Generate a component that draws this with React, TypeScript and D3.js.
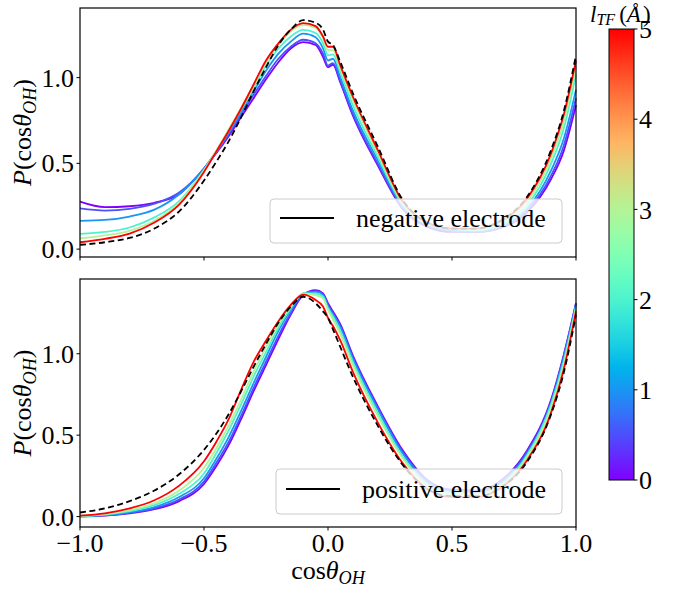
import React from "react";
import * as d3 from "d3";

// ---- data ----
const xs = [-1, -0.9, -0.8, -0.7, -0.6, -0.5, -0.45, -0.4, -0.35, -0.3, -0.25, -0.2, -0.15, -0.1, -0.05, -0.02, 0, 0.02, 0.05, 0.1, 0.2, 0.3, 0.4, 0.5, 0.6, 0.7, 0.8, 0.9, 0.95, 1.0];
const lTF = [0, 0.5, 1, 2, 3, 5];

const neg0 = [0.277, 0.245, 0.25, 0.27, 0.32, 0.47, 0.56, 0.66, 0.77, 0.88, 0.99, 1.09, 1.17, 1.207, 1.19, 1.12, 1.06, 1.075, 0.97, 0.78, 0.49, 0.235, 0.13, 0.10, 0.10, 0.125, 0.21, 0.41, 0.57, 0.84];
const neg05 = [0.237, 0.225, 0.235, 0.265, 0.33, 0.47, 0.565, 0.67, 0.785, 0.90, 1.01, 1.11, 1.18, 1.221, 1.20, 1.14, 1.07, 1.085, 0.98, 0.79, 0.50, 0.24, 0.135, 0.105, 0.10, 0.13, 0.22, 0.43, 0.60, 0.88];
const neg1 = [0.165, 0.17, 0.19, 0.23, 0.32, 0.47, 0.57, 0.68, 0.80, 0.92, 1.04, 1.14, 1.21, 1.256, 1.235, 1.17, 1.10, 1.11, 1.00, 0.81, 0.52, 0.25, 0.14, 0.11, 0.105, 0.135, 0.23, 0.46, 0.64, 0.93];
const neg2 = [0.089, 0.10, 0.126, 0.185, 0.28, 0.46, 0.57, 0.69, 0.815, 0.94, 1.07, 1.17, 1.24, 1.279, 1.26, 1.20, 1.13, 1.135, 1.03, 0.84, 0.54, 0.26, 0.145, 0.115, 0.11, 0.145, 0.25, 0.50, 0.70, 1.02];
const neg3 = [0.062, 0.08, 0.107, 0.165, 0.27, 0.46, 0.575, 0.70, 0.825, 0.95, 1.09, 1.19, 1.27, 1.308, 1.29, 1.23, 1.16, 1.16, 1.05, 0.87, 0.56, 0.27, 0.15, 0.12, 0.115, 0.155, 0.27, 0.53, 0.74, 1.066];
const neg5 = [0.04, 0.06, 0.09, 0.155, 0.26, 0.45, 0.57, 0.69, 0.82, 0.96, 1.10, 1.20, 1.28, 1.318, 1.30, 1.24, 1.18, 1.18, 1.07, 0.89, 0.58, 0.28, 0.155, 0.12, 0.12, 0.165, 0.29, 0.56, 0.78, 1.10];
const negRef = [0.025, 0.04, 0.065, 0.12, 0.22, 0.40, 0.51, 0.63, 0.77, 0.92, 1.06, 1.19, 1.28, 1.335, 1.32, 1.28, 1.21, 1.19, 1.09, 0.91, 0.60, 0.29, 0.155, 0.12, 0.12, 0.17, 0.30, 0.58, 0.80, 1.13];

const pos0 = [0.001, 0.006, 0.02, 0.045, 0.095, 0.20, 0.31, 0.44, 0.60, 0.77, 0.93, 1.09, 1.24, 1.36, 1.39, 1.37, 1.31, 1.26, 1.18, 0.99, 0.68, 0.41, 0.225, 0.165, 0.16, 0.225, 0.40, 0.72, 0.99, 1.31];
const pos05 = [0.001, 0.007, 0.023, 0.05, 0.105, 0.215, 0.33, 0.46, 0.62, 0.79, 0.95, 1.11, 1.25, 1.365, 1.385, 1.365, 1.30, 1.25, 1.17, 0.98, 0.67, 0.40, 0.22, 0.16, 0.155, 0.22, 0.39, 0.71, 0.98, 1.31];
const pos1 = [0.002, 0.009, 0.027, 0.058, 0.12, 0.235, 0.355, 0.49, 0.65, 0.82, 0.98, 1.14, 1.27, 1.37, 1.38, 1.36, 1.29, 1.24, 1.16, 0.97, 0.66, 0.39, 0.21, 0.155, 0.15, 0.21, 0.38, 0.70, 0.97, 1.30];
const pos2 = [0.003, 0.012, 0.033, 0.07, 0.14, 0.265, 0.39, 0.53, 0.69, 0.86, 1.01, 1.16, 1.28, 1.37, 1.37, 1.35, 1.28, 1.23, 1.14, 0.95, 0.64, 0.37, 0.20, 0.145, 0.14, 0.20, 0.37, 0.69, 0.95, 1.29];
const pos3 = [0.004, 0.015, 0.04, 0.082, 0.16, 0.30, 0.42, 0.56, 0.72, 0.89, 1.04, 1.18, 1.29, 1.37, 1.36, 1.34, 1.27, 1.21, 1.12, 0.93, 0.62, 0.36, 0.19, 0.135, 0.135, 0.19, 0.36, 0.67, 0.93, 1.28];
const pos5 = [0.006, 0.02, 0.05, 0.10, 0.19, 0.34, 0.46, 0.60, 0.78, 0.95, 1.08, 1.20, 1.30, 1.363, 1.33, 1.29, 1.22, 1.17, 1.08, 0.89, 0.58, 0.33, 0.17, 0.12, 0.12, 0.18, 0.34, 0.64, 0.90, 1.26];
const posRef = [0.025, 0.05, 0.095, 0.16, 0.26, 0.41, 0.51, 0.63, 0.77, 0.92, 1.06, 1.19, 1.29, 1.35, 1.31, 1.26, 1.22, 1.15, 1.04, 0.86, 0.56, 0.32, 0.17, 0.125, 0.125, 0.18, 0.33, 0.63, 0.88, 1.24];

const xTicks = [-1, -0.5, 0, 0.5, 1];
const yTicks = [0, 0.5, 1.0];
const cbTicks = [0, 1, 2, 3, 4, 5];

// matplotlib "rainbow" colormap
const rainbow = (t: number) => {
  const r = Math.min(1, Math.abs(2 * t - 0.5));
  const g = Math.sin(Math.PI * t);
  const b = Math.cos((Math.PI * t) / 2);
  return d3.rgb(r * 255, g * 255, b * 255).formatHex();
};
const color = d3.scaleSequential(rainbow).domain([0, 5]);

const FONT = "'Liberation Serif', 'DejaVu Serif', serif";
const FS = 26;
const X0 = 80, X1 = 576;
const x = d3.scaleLinear().domain([-1, 1]).range([X0, X1]);
const fmt = (v: number) => d3.format(".1f")(v).replace("-", "\u2212");

type PanelProps = {
  series: number[][];
  ref: number[];
  top: number;
  bottom: number;
  yDomain: [number, number];
  label: string;
  legend: { x: number; y: number; w: number; h: number; lx: number; ly: number; tx: number; ty: number };
  showX: boolean;
};

const Panel = ({ series, ref, top, bottom, yDomain, label, legend, showX }: PanelProps) => {
  const y = d3.scaleLinear().domain(yDomain).range([bottom, top]);
  const line = d3
    .line<number>()
    .x((_, i) => x(xs[i]))
    .y((d) => y(d))
    .curve(d3.curveMonotoneX);
  const midY = (top + bottom) / 2;
  return (
    <g>
      {series.map((s, i) => (
        <path key={i} d={line(s) || ""} fill="none" stroke={color(lTF[i])} strokeWidth={1.8} />
      ))}
      <path d={line(ref) || ""} fill="none" stroke="#000" strokeWidth={1.8} strokeDasharray="6,3.5" />
      <rect x={X0} y={top} width={X1 - X0} height={bottom - top} fill="none" stroke="#000" strokeWidth={1.2} />
      {xTicks.map((t) => (
        <g key={t}>
          <line x1={x(t)} x2={x(t)} y1={bottom} y2={bottom + 3.5} stroke="#000" strokeWidth={1} />
          {showX && (
            <text x={x(t)} y={bottom + 25} textAnchor="middle" fontSize={FS} fontFamily={FONT}>
              {fmt(t)}
            </text>
          )}
        </g>
      ))}
      {yTicks.map((t) => (
        <g key={t}>
          <line x1={X0 - 3.5} x2={X0} y1={y(t)} y2={y(t)} stroke="#000" strokeWidth={1} />
          <text x={X0 - 6} y={y(t)} dy="0.35em" textAnchor="end" fontSize={FS} fontFamily={FONT}>
            {fmt(t)}
          </text>
        </g>
      ))}
      <text transform={`translate(31,${midY}) rotate(-90)`} textAnchor="middle" fontSize={FS} fontFamily={FONT}>
        <tspan fontStyle="italic">P</tspan>
        <tspan>(cos</tspan>
        <tspan fontStyle="italic">θ</tspan>
        <tspan fontStyle="italic" fontSize={FS * 0.7} dy={5}>OH</tspan>
        <tspan dy={-5}>)</tspan>
      </text>
      <rect x={legend.x} y={legend.y} width={legend.w} height={legend.h} rx={4} fill="#fff" fillOpacity={0.8} stroke="#cccccc" strokeWidth={1} />
      <line x1={legend.lx} x2={legend.lx + 54} y1={legend.ly} y2={legend.ly} stroke="#000" strokeWidth={1.8} />
      <text x={legend.tx} y={legend.ty} fontSize={FS} fontFamily={FONT}>
        {label}
      </text>
    </g>
  );
};

export default function App() {
  const cbX = 609, cbW = 25, cbTop = 29, cbBot = 480;
  const cy = d3.scaleLinear().domain([0, 5]).range([cbBot, cbTop]);
  const stops = d3.range(0, 1.0001, 0.05);
  const LFS = 23;
  return (
    <svg width={678} height={589} style={{ position: "absolute", left: 0, top: 0, background: "#fff" }}>
      <defs>
        <linearGradient id="cbgrad" x1="0" y1="1" x2="0" y2="0">
          {stops.map((s) => (
            <stop key={s} offset={s} stopColor={rainbow(s)} />
          ))}
        </linearGradient>
      </defs>
      <Panel
        series={[neg0, neg05, neg1, neg2, neg3, neg5]}
        ref={negRef}
        top={8}
        bottom={257}
        yDomain={[-0.046, 1.406]}
        label="negative electrode"
        legend={{ x: 270, y: 199, w: 292, h: 44, lx: 280, ly: 218, tx: 356, ty: 227 }}
        showX={false}
      />
      <Panel
        series={[pos0, pos05, pos1, pos2, pos3, pos5]}
        ref={posRef}
        top={279}
        bottom={527}
        yDomain={[-0.064, 1.459]}
        label="positive electrode"
        legend={{ x: 276, y: 469, w: 286, h: 45, lx: 286, ly: 489, tx: 362, ty: 498 }}
        showX={true}
      />
      <text x={(X0 + X1) / 2} y={579} textAnchor="middle" fontSize={FS} fontFamily={FONT}>
        <tspan>cos</tspan>
        <tspan fontStyle="italic">θ</tspan>
        <tspan fontStyle="italic" fontSize={FS * 0.7} dy={5}>OH</tspan>
      </text>
      <rect x={cbX} y={cbTop} width={cbW} height={cbBot - cbTop} fill="url(#cbgrad)" stroke="#000" strokeWidth={1} />
      {cbTicks.map((t) => (
        <g key={t}>
          <line x1={cbX + cbW} x2={cbX + cbW + 3.5} y1={cy(t)} y2={cy(t)} stroke="#000" strokeWidth={1} />
          <text x={cbX + cbW + 5} y={cy(t)} dy="0.35em" fontSize={FS} fontFamily={FONT}>
            {t}
          </text>
        </g>
      ))}
      <text x={590} y={22} fontSize={LFS} fontFamily={FONT}>
        <tspan fontStyle="italic">l</tspan>
        <tspan fontStyle="italic" fontSize={LFS * 0.7} dy={3}>TF</tspan>
        <tspan dy={-3} dx={4}>(</tspan>
        <tspan fontStyle="italic">Å</tspan>
        <tspan dx={2}>)</tspan>
      </text>
    </svg>
  );
}
